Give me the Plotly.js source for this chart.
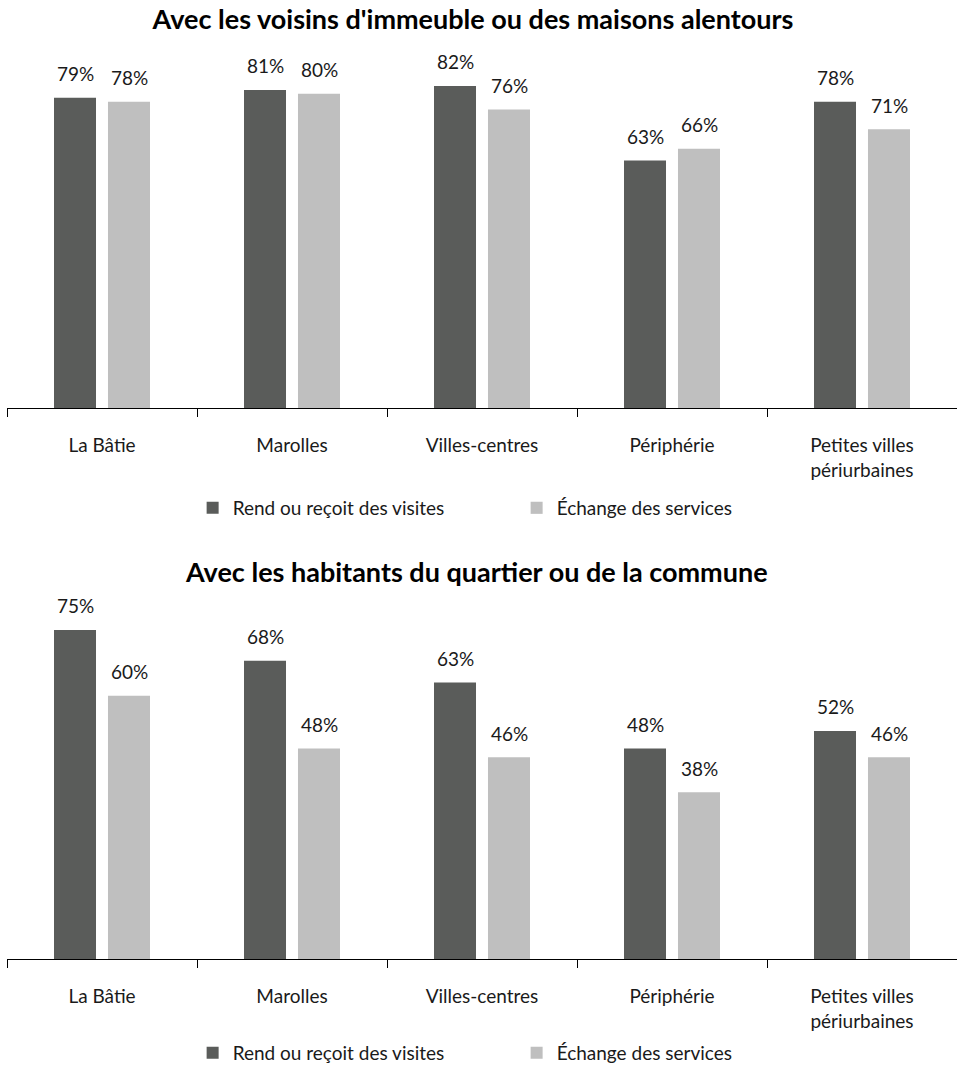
<!DOCTYPE html>
<html>
<head>
<meta charset="utf-8">
<script src="https://cdn.plot.ly/plotly-3.0.1.min.js"></script>
<style>html,body{margin:0;padding:0;background:#fff;}#chart{width:957px;height:1068px;}</style>
</head>
<body>
<div id="chart"></div>
<script>
const categories = ["La Bâtie", "Marolles", "Villes-centres", "Périphérie", "Petites villes<br>périurbaines"];
const seriesNames = ["Rend ou reçoit des visites", "Échange des services"];
const titles = ["Avec les voisins d'immeuble ou des maisons alentours", "Avec les habitants du quartier ou de la commune"];
const voisinsVisites = [79, 81, 82, 63, 78];
const voisinsServices = [78, 80, 76, 66, 71];
const habitantsVisites = [75, 68, 63, 48, 52];
const habitantsServices = [60, 48, 46, 38, 46];

const DARK = '#5a5c5a';
const LIGHT = '#bfbfbf';
const FONT = 'Lato, Carlito, Calibri, "Open Sans", sans-serif';

const traces = [
  {type:'bar', x:categories, y:voisinsVisites, name:seriesNames[0], marker:{color:DARK}, xaxis:'x', yaxis:'y', legend:'legend', hoverinfo:'skip'},
  {type:'bar', x:categories, y:voisinsServices, name:seriesNames[1], marker:{color:LIGHT}, xaxis:'x', yaxis:'y', legend:'legend', hoverinfo:'skip'},
  {type:'bar', x:categories, y:habitantsVisites, name:seriesNames[0], marker:{color:DARK}, xaxis:'x2', yaxis:'y2', legend:'legend2', hoverinfo:'skip'},
  {type:'bar', x:categories, y:habitantsServices, name:seriesNames[1], marker:{color:LIGHT}, xaxis:'x2', yaxis:'y2', legend:'legend2', hoverinfo:'skip'}
];

const annotations = [];
function addLabels(vals, xref, yref, shift){
  vals.forEach((v,i)=>{
    annotations.push({x:categories[i], y:v, xref:xref, yref:yref, text:v+'%', showarrow:false,
      xshift:shift, yshift:24, yanchor:'middle', font:{size:19, color:'#1a1a1a', family:FONT}});
  });
}
addLabels(voisinsVisites,'x','y',-27);
addLabels(voisinsServices,'x','y',27);
addLabels(habitantsVisites,'x2','y2',-27);
addLabels(habitantsServices,'x2','y2',27);
annotations.push({text:'<b>'+titles[1]+'</b>', xref:'paper', yref:'paper', x:473/957, y:1-571/1068, xanchor:'center', yanchor:'middle', showarrow:false, font:{size:27, color:'#000', family:FONT}});

const xaxisBase = {type:'category', range:[-0.5,4.5], showline:true, linecolor:'#000', linewidth:1, ticks:'outside', tickson:'boundaries', ticklen:8, tickcolor:'#000', ticklabelstandoff:20, showgrid:false, zeroline:false, tickfont:{size:19, color:'#1a1a1a', family:FONT}, fixedrange:true};
const yaxisBase = {visible:false, showgrid:false, zeroline:false, fixedrange:true};

const legendBase = {orientation:'h', x:187/957, xanchor:'left', yanchor:'middle', entrywidth:279, entrywidthmode:'pixels', font:{size:19, color:'#1a1a1a', family:FONT}, bgcolor:'rgba(0,0,0,0)'};

const layout = {
  width:957, height:1068,
  margin:{l:7, r:0, t:0, b:0, autoexpand:false},
  paper_bgcolor:'#fff', plot_bgcolor:'#fff',
  font:{family:FONT, size:19, color:'#1a1a1a'},
  title:{text:'<b>'+titles[0]+'</b>', x:473/957, xanchor:'center', y:1-20/1068, yanchor:'middle', font:{size:27, color:'#000', family:FONT}},
  barmode:'group', bargap:0.4316, bargroupgap:0.222,
  xaxis:Object.assign({}, xaxisBase, {anchor:'y', automargin:false}),
  yaxis:Object.assign({}, yaxisBase, {domain:[1-408/1068, 1-50/1068], range:[0, 358/3.927], anchor:'x'}),
  xaxis2:Object.assign({}, xaxisBase, {anchor:'y2', automargin:false}),
  yaxis2:Object.assign({}, yaxisBase, {domain:[1-959/1068, 1-600/1068], range:[0, 359/4.387], anchor:'x2'}),
  legend:Object.assign({}, legendBase, {y:1-508/1068}),
  legend2:Object.assign({}, legendBase, {y:1-1053/1068}),
  annotations:annotations,
  showlegend:true
};

Plotly.newPlot('chart', traces, layout, {displayModeBar:false, staticPlot:true});
</script>
</body>
</html>
